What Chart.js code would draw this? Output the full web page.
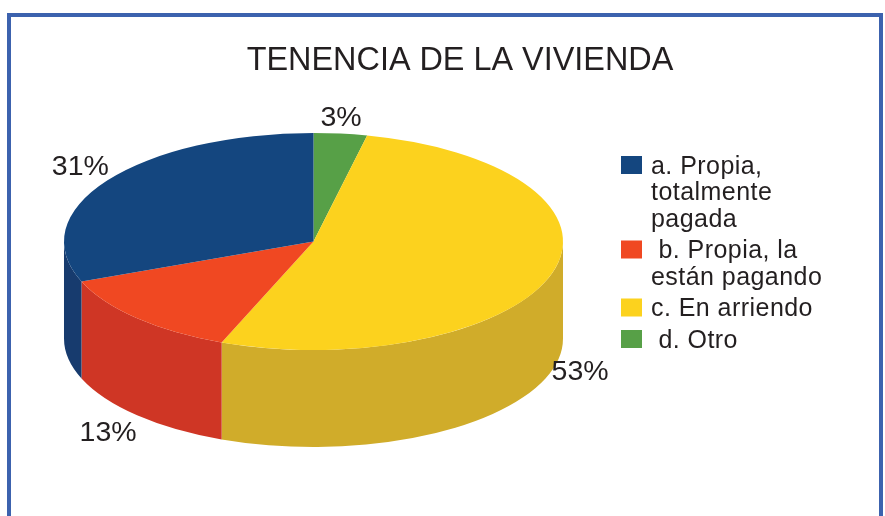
<!DOCTYPE html>
<html>
<head>
<meta charset="utf-8">
<style>
  html, body { margin: 0; padding: 0; background: #fff; }
  canvas { display: block; }
</style>
<script src="https://cdn.jsdelivr.net/npm/chart.js@4"></script>
</head>
<body>
<canvas id="chart" width="885" height="516"></canvas>
<script>
const titleText = 'TENENCIA DE LA VIVIENDA';
const categories = ['a. Propia, totalmente pagada', ' b. Propia, la están pagando', 'c. En arriendo', ' d. Otro'];
const legendLines = [['a. Propia,', 'totalmente', 'pagada'], [' b. Propia, la', 'están pagando'], ['c. En arriendo'], [' d. Otro']];
const values = [31, 13, 52.55, 3.45];
const topColors = ['#14467f', '#f04822', '#fcd21e', '#57a047'];
const sideColors = ['#173b6e', '#cf3625', '#d0ac2a', '#57a047'];

const font = '"Liberation Sans", Arial, sans-serif';
const ink = '#231f20';

// the pie is squashed and moved here when drawn
const cx = 313.5, cy = 241.5, squash = 0.435, depth = 97;

// small label shifts, pie order (green, yellow, red, blue)
const labelNudge = [[-3, 4], [-3, -2], [-6, 8], [0, 0]];

const pie3d = {
    id: 'pie3d',
    beforeDraw(chart) {
        const ctx = chart.ctx;
        ctx.save();
        ctx.strokeStyle = '#3c62ae';
        ctx.lineWidth = 4;
        ctx.strokeRect(9, 15, 872, 560);
        ctx.restore();
    },
    beforeDatasetsDraw(chart) {
        const ctx = chart.ctx;
        const arcs = chart.getDatasetMeta(0).data;
        const sides = [...sideColors].reverse();

        // outer wall, only the front half is seen
        arcs.forEach((arc, i) => {
            const a0 = Math.max(arc.startAngle, 0);
            const a1 = Math.min(arc.endAngle, Math.PI);
            if (a1 <= a0) return;
            const rx = arc.outerRadius, ry = rx * squash;
            ctx.beginPath();
            ctx.ellipse(cx, cy, rx, ry, 0, a0, a1);
            ctx.ellipse(cx, cy + depth, rx, ry, 0, a1, a0, true);
            ctx.closePath();
            ctx.fillStyle = sides[i];
            ctx.fill();
        });

        // top face, the library's own arcs
        arcs.forEach(arc => {
            ctx.save();
            ctx.translate(cx, cy);
            ctx.scale(1, squash);
            ctx.translate(-arc.x, -arc.y);
            arc.draw(ctx);
            ctx.restore();
        });

        // percent labels
        const shown = [...values].reverse();
        ctx.save();
        ctx.font = '28.5px ' + font;
        ctx.fillStyle = ink;
        ctx.textAlign = 'center';
        ctx.textBaseline = 'middle';
        arcs.forEach((arc, i) => {
            const mid = (arc.startAngle + arc.endAngle) / 2;
            const r = arc.outerRadius * 1.13;
            const x = cx + Math.cos(mid) * r;
            let y = cy + Math.sin(mid) * r * squash;
            y += Math.sin(mid) > 0 ? depth : -5;
            ctx.fillText(Math.round(shown[i]) + '%', x + labelNudge[i][0], y + labelNudge[i][1]);
        });
        ctx.restore();
        return false;
    },
    afterDraw(chart) {
        const ctx = chart.ctx;
        ctx.save();
        ctx.font = '25px ' + font;
        ctx.letterSpacing = '0.45px';
        ctx.textBaseline = 'middle';
        let y = 167;
        legendLines.forEach((lines, i) => {
            ctx.fillStyle = topColors[i];
            ctx.fillRect(621, y - 11, 21, 18);
            ctx.fillStyle = ink;
            lines.forEach(line => {
                ctx.fillText(line, 651, y);
                y += 26.5;
            });
            y += 5;
        });
        ctx.restore();
    }
};

new Chart(document.getElementById('chart'), {
    type: 'pie',
    data: {
        labels: [...categories].reverse(),
        datasets: [{
            data: [...values].reverse(),
            backgroundColor: [...topColors].reverse(),
            borderWidth: 0,
            radius: 249.5
        }]
    },
    options: {
        responsive: false,
        animation: false,
        layout: { padding: { left: 35 } },
        plugins: {
            legend: { display: false },
            tooltip: { enabled: false },
            title: {
                display: true,
                text: titleText,
                color: ink,
                font: { family: font, size: 32.4, weight: 'normal' },
                padding: { top: 42, bottom: 5 }
            }
        }
    },
    plugins: [pie3d]
});
</script>
</body>
</html>
